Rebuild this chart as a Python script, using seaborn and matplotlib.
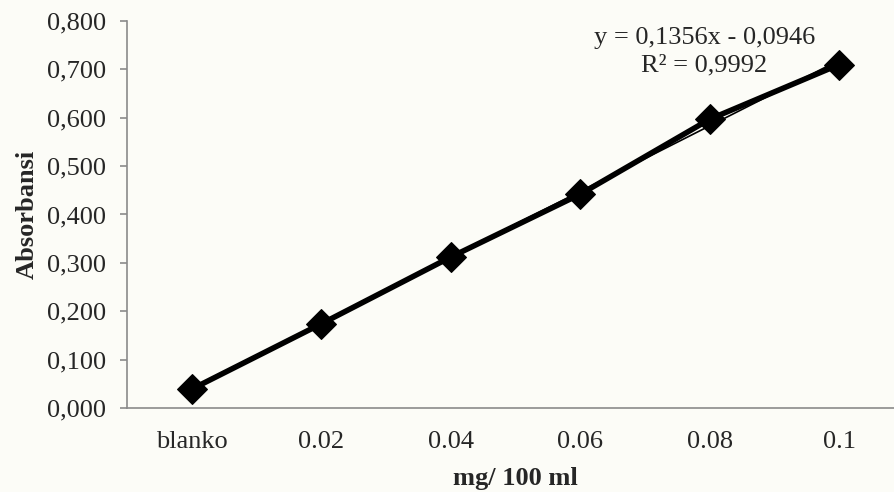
import numpy as np
import pandas as pd
import matplotlib
matplotlib.use("Agg")
import matplotlib.pyplot as plt
import seaborn as sns
from matplotlib.ticker import FuncFormatter

# data
concentrations = ["blanko", "0.02", "0.04", "0.06", "0.08", "0.1"]
absorbance = [0.039, 0.174, 0.312, 0.442, 0.597, 0.710]
slope = 0.1356
intercept = -0.0946
r_squared = 0.9992

sns.set_style("white")
plt.rcParams['font.family'] = ['Liberation Serif', 'DejaVu Serif']

bg = "#fcfcf7"
fig = plt.figure(figsize=(8.95, 4.92), dpi=100, facecolor=bg)
ax = fig.add_axes([127 / 895, 1 - 408 / 492, 777 / 895, 387 / 492])
ax.set_facecolor(bg)

d = pd.DataFrame({"x": concentrations, "Absorbansi": absorbance})
pos = np.arange(len(concentrations))
d["trend"] = slope * (pos + 1) + intercept

sns.lineplot(x="x", y="Absorbansi", data=d, sort=False, color="black",
             linewidth=4, marker="D", markersize=15, markeredgecolor="black",
             ax=ax, zorder=3)
sns.lineplot(x="x", y="trend", data=d, sort=False, color="black",
             linewidth=1.2, ax=ax, zorder=4)

ax.set_xlim(-0.5, 5.5)
ax.set_ylim(0, 0.8)
ax.set_yticks(np.arange(0, 0.81, 0.1))
ax.yaxis.set_major_formatter(FuncFormatter(lambda v, p: ("%.3f" % v).replace(".", ",")))

for s in ["top", "right"]:
    ax.spines[s].set_visible(False)
for s in ["left", "bottom"]:
    ax.spines[s].set_color("#8a8a8a")
    ax.spines[s].set_linewidth(1.2)

ax.tick_params(axis="y", which="both", left=True, length=5, width=1.2,
               color="#8a8a8a", labelsize=19, pad=10)
ax.tick_params(axis="x", bottom=False, labelsize=19, pad=13)

ax.set_xlabel("mg/ 100 ml", fontsize=19, fontweight="bold", labelpad=10)
ax.set_ylabel("Absorbansi", fontsize=19, fontweight="bold", labelpad=6)

ax.text(3.96, 0.737, "y = 0,1356x - 0,0946\nR² = %s" % str(r_squared).replace(".", ","),
        fontsize=19, ha="center", va="center", linespacing=1.3)

fig.savefig("out.png", dpi=100, facecolor=bg)
